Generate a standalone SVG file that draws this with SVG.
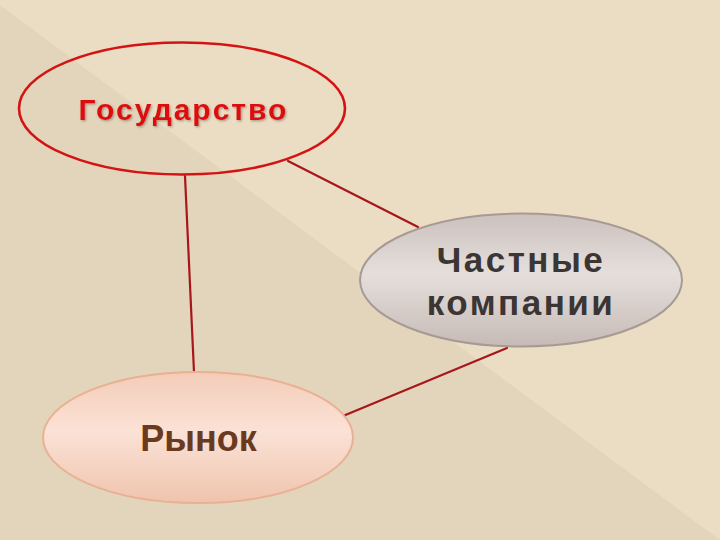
<svg xmlns="http://www.w3.org/2000/svg" width="720" height="540" viewBox="0 0 720 540">
  <defs>
    <linearGradient id="gGray" x1="0" y1="0" x2="0" y2="1">
      <stop offset="0" stop-color="#cbc1be"/>
      <stop offset="0.45" stop-color="#e5dfdc"/>
      <stop offset="1" stop-color="#c6bab6"/>
    </linearGradient>
    <linearGradient id="gPeach" x1="0" y1="0" x2="0" y2="1">
      <stop offset="0" stop-color="#f3ccb8"/>
      <stop offset="0.45" stop-color="#fbe2d6"/>
      <stop offset="1" stop-color="#efc4ae"/>
    </linearGradient>
    <filter id="shadow" x="-10%" y="-30%" width="120%" height="160%">
      <feDropShadow dx="1.2" dy="1.2" stdDeviation="0.8" flood-color="#6e5a50" flood-opacity="0.55"/>
    </filter>
    <style>
      .conn { stroke: #a8161a; stroke-width: 2.2; fill: none; stroke-linecap: round; }
      .lbl { font-family: "Liberation Sans", Arial, sans-serif; font-weight: bold; text-anchor: middle; }
    </style>
  </defs>

  <!-- background -->
  <rect x="0" y="0" width="720" height="540" fill="#ebddc3"/>
  <polygon points="0,5 720,540 0,540" fill="#e3d5bb"/>

  <g id="connectors">
    <line class="conn" x1="185" y1="176" x2="194" y2="372"/>
    <line class="conn" x1="288" y1="161" x2="418" y2="227"/>
    <line class="conn" x1="507" y1="348" x2="343" y2="416"/>
  </g>

  <g id="node-gosudarstvo">
    <ellipse cx="182" cy="108.5" rx="163" ry="66" fill="none" stroke="#d41414" stroke-width="2.6"/>
    <text class="lbl" x="183.5" y="120" font-size="30" letter-spacing="2" fill="#dd1111" filter="url(#shadow)">Государство</text>
  </g>

  <g id="node-chastnye">
    <ellipse cx="521" cy="280" rx="161" ry="66.5" fill="url(#gGray)" stroke="#a79a94" stroke-width="2"/>
    <text class="lbl" x="521" y="272" font-size="35" letter-spacing="2.5" fill="#3b3533">Частные</text>
    <text class="lbl" x="521" y="315" font-size="35" letter-spacing="2.5" fill="#3b3533">компании</text>
  </g>

  <g id="node-rynok">
    <ellipse cx="198" cy="437.5" rx="155" ry="65.5" fill="url(#gPeach)" stroke="#eab093" stroke-width="2"/>
    <text class="lbl" x="198.5" y="451" font-size="36" fill="#6a3a20">Рынок</text>
  </g>
</svg>
